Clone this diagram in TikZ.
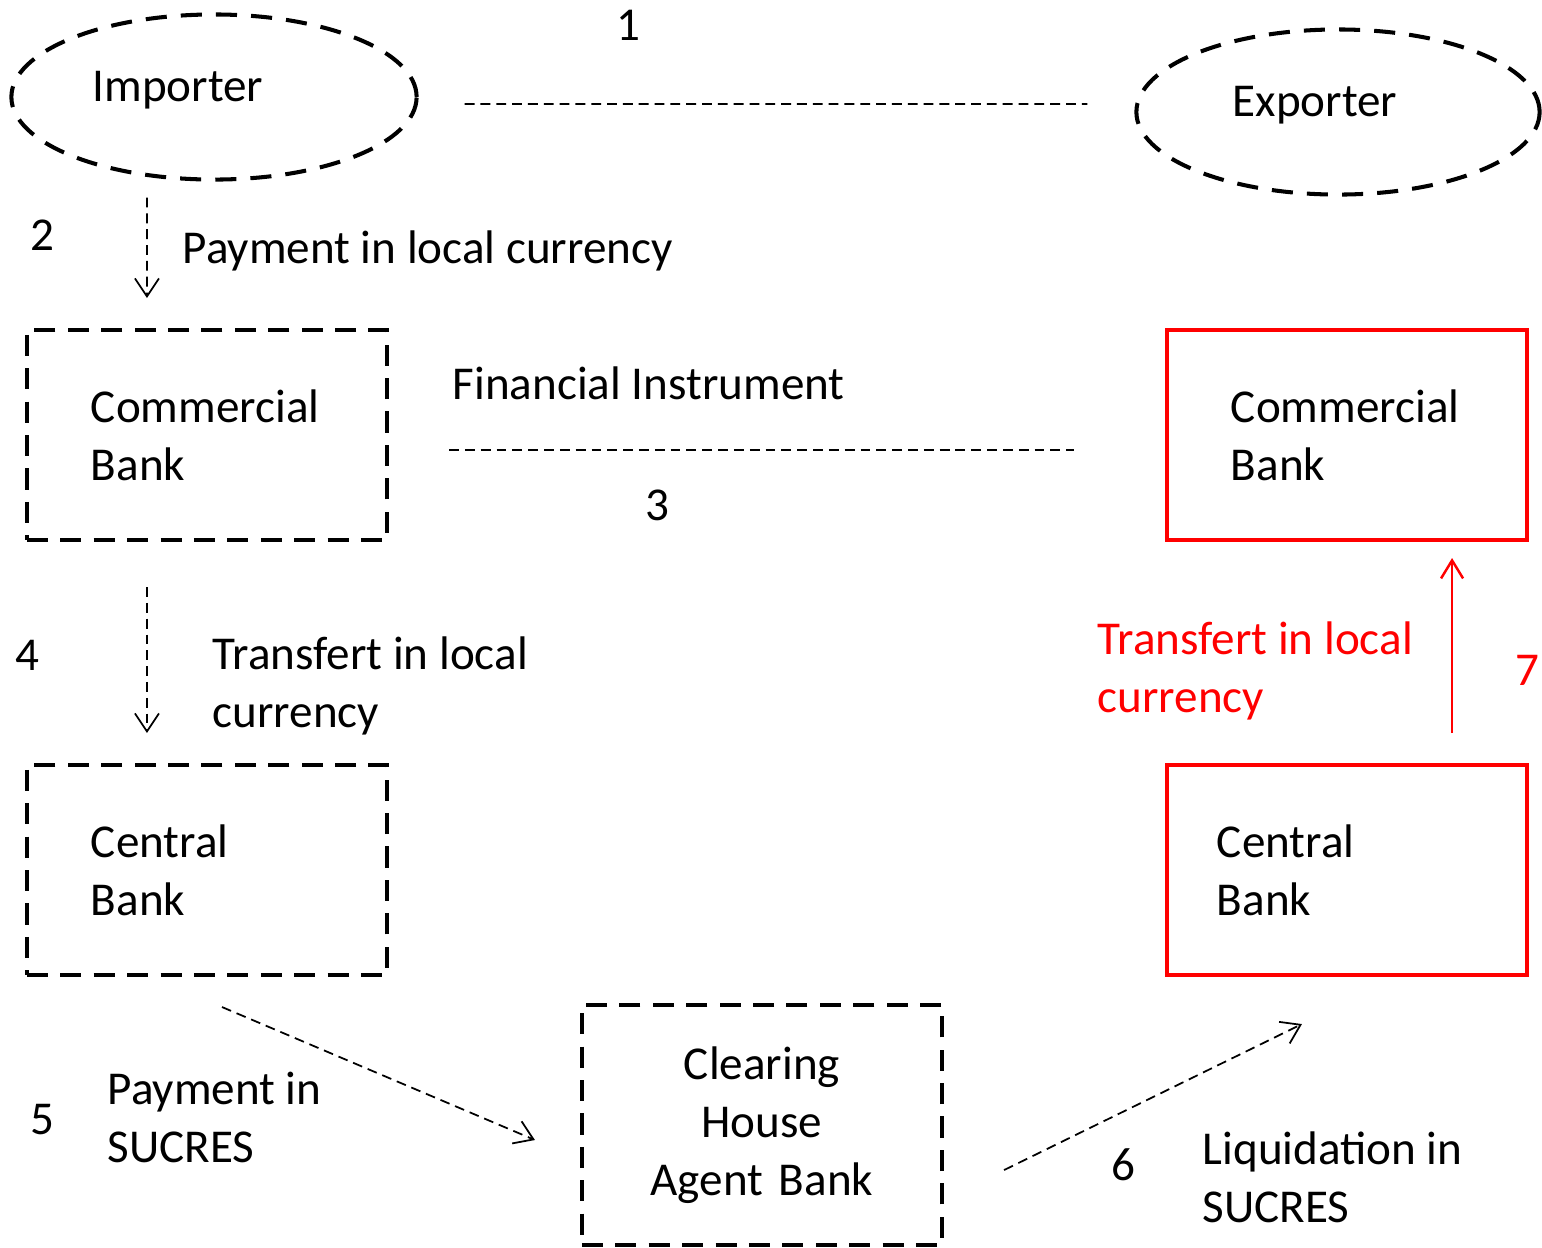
\documentclass[tikz,border=0pt]{standalone}
\usepackage{fontspec}
\setmainfont{Carlito}
\usetikzlibrary{arrows.meta,positioning,shapes.geometric}
\definecolor{myred}{HTML}{FF0000}
\tikzset{
  party/.style={draw, ellipse, line width=1.15pt, dash pattern=on 6pt off 4pt},
  bank/.style={draw, line width=1.1pt, dash pattern=on 6pt off 3.5pt, minimum width=3.6cm,
               minimum height=2.1cm, text width=2.32cm, align=left, inner sep=0pt},
  redbank/.style={bank, draw=myred, solid},
  link/.style={line width=0.5pt, dash pattern=on 2.8pt off 1.7pt},
  arr/.style={link, -{Straight Barb[length=1.8mm, width=2.4mm]}},
  redarr/.style={myred, line width=0.7pt, -{Straight Barb[length=1.8mm, width=2.2mm]}},
  lab/.style={inner sep=0pt, align=left},
  num/.style={inner sep=0pt},
}
\begin{document}
\begin{tikzpicture}[x=0.01cm, y=-0.01cm, font=\fontsize{13.4}{16.5}\selectfont]
    \useasboundingbox (0,0) rectangle (1542,1247);
    \node[party, minimum width=4.05cm, minimum height=1.65cm,
          label={[xshift=-0.36cm, yshift=0.07cm]center:Importer}] (imp) at (214,97) {};
    \node[party, minimum width=4.03cm, minimum height=1.65cm,
          label={[xshift=-0.23cm, yshift=0.07cm]center:Exporter}] (exp) at (1338,112) {};
    \node[bank] (cb1) at (207,435) {Commercial\\Bank};
    \node[bank] (cen1) at (207,870) {Central\\Bank};
    \node[redbank] (cb2) at (1347,435) {Commercial\\Bank};
    \node[redbank, text width=2.6cm] (cen2) at (1347,870) {Central\\Bank};
    \node[bank, minimum height=2.4cm, text width=3.2cm, align=center] (clr) at (762,1125) {Clearing\\House\\Agent Bank};
    % step labels
    \node[num] (n1) at (628,25) {1};
    \node[num] (n2) at (42,235) {2};
    \node[num] (n3) at (657,505) {3};
    \node[num] (n4) at (27,655) {4};
    \node[num] (n5) at (42,1120) {5};
    \node[num] (n6) at (1123,1165) {6};
    \node[num, text=myred] (n7) at (1527,670) {7};
    \node[lab, anchor=base west] (pay) at (182,263) {Payment in local currency};
    \node[lab, anchor=base west] (fin) at (452,399) {Financial Instrument};
    \node[lab, anchor=north west] (tra) at (212,636) {Transfert in local\\currency};
    \node[lab, anchor=north west] (suc) at (107,1071) {Payment in\\SUCRES};
    \node[lab, anchor=north west] (liq) at (1202,1131) {Liquidation in\\SUCRES};
    \node[lab, anchor=north west, text=myred] (trb) at (1097,621) {Transfert in local\\currency};
    % connectors
    \draw[link] ([shift={(0.46cm,-0.07cm)}]imp.east) -- ([shift={(-0.47cm,0.08cm)}]exp.west);
    \draw[arr] ([shift={(-0.67cm,-0.16cm)}]imp.south) -- ([shift={(-0.6cm,0.3cm)}]cb1.north);
    \draw[link] ([shift={(0.6cm,-0.15cm)}]cb1.east) -- ([shift={(-0.91cm,-0.15cm)}]cb2.west);
    \draw[arr] ([shift={(-0.6cm,-0.45cm)}]cb1.south) -- ([shift={(-0.6cm,0.3cm)}]cen1.north);
    \draw[arr] ([shift={(0.15cm,-0.3cm)}]cen1.south) -- ([shift={(-0.45cm,-0.15cm)}]clr.west);
    \draw[arr] ([shift={(0.6cm,-0.45cm)}]clr.east) -- ([shift={(-0.45cm,-0.47cm)}]cen2.south);
    \draw[redarr] ([shift={(1.05cm,0.3cm)}]cen2.north) -- ([shift={(1.05cm,-0.16cm)}]cb2.south);
\end{tikzpicture}
\end{document}
